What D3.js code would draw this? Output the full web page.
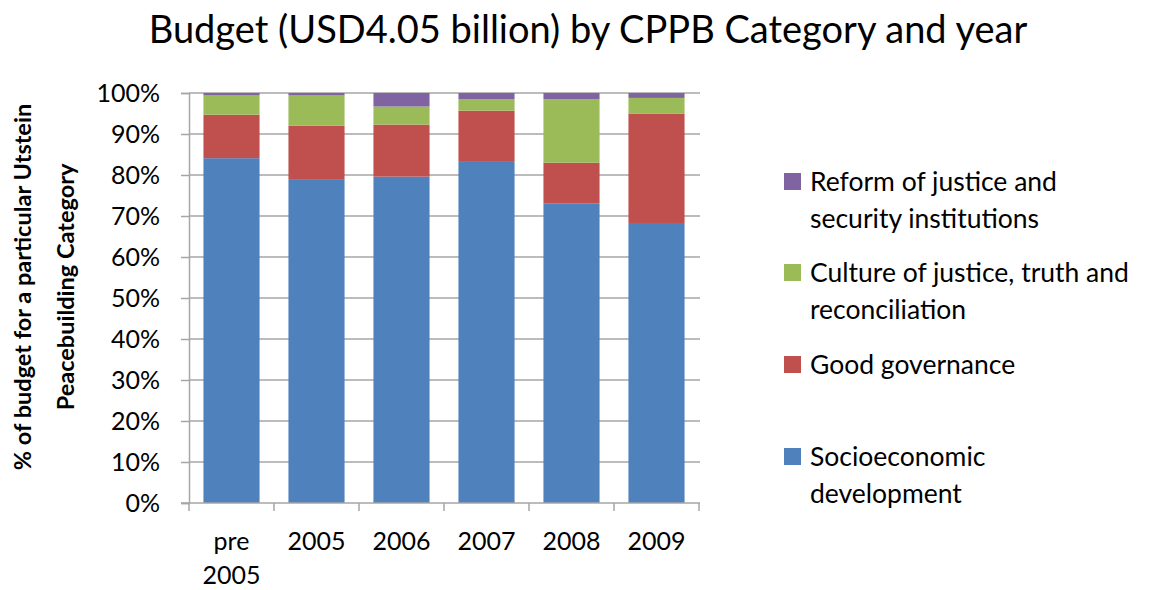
<!DOCTYPE html>
<html><head><meta charset="utf-8">
<script src="https://cdn.jsdelivr.net/npm/d3@7"></script>
<style>body{margin:0;background:#fff}svg{display:block}</style>
</head><body><div id="chart"></div>
<script>
const categories = ["pre 2005","2005","2006","2007","2008","2009"];
const socioeconomic = [84.1, 79.0, 79.6, 83.4, 73.1, 68.3];
const goodGovernance = [10.6, 13.0, 12.7, 12.3, 9.9, 26.7];
const cultureOfJustice = [4.7, 7.4, 4.4, 2.8, 15.5, 3.8];
const reformOfJustice = [0.6, 0.6, 3.3, 1.5, 1.5, 1.2];
const seriesNames = ["Socioeconomic development","Good governance","Culture of justice, truth and reconciliation","Reform of justice and security institutions"];
const yTicks = [0,10,20,30,40,50,60,70,80,90,100];
const title = "Budget (USD4.05 billion) by CPPB Category and year";
const yTitle = ["% of budget for a particular Utstein","Peacebuilding Category"];

const colors = ["#4F81BD","#C0504D","#9BBB59","#8064A2"];
const legendLines = [
  ["Reform of justice and","security institutions"],
  ["Culture of justice, truth and","reconciliation"],
  ["Good governance"],
  ["Socioeconomic","development"]
];

const W=1162,H=590;
const m={left:189,right:699,top:93,bottom:503};
const font="Lato, 'Open Sans', sans-serif";
const svg=d3.select("#chart").append("svg").attr("width",W).attr("height",H);

const data=categories.map((c,i)=>({cat:c,s0:socioeconomic[i],s1:goodGovernance[i],s2:cultureOfJustice[i],s3:reformOfJustice[i]}));
const keys=["s0","s1","s2","s3"];
const stack=d3.stack().keys(keys)(data);

const x=d3.scaleBand().domain(categories).range([m.left,m.right]).paddingInner(0.34).paddingOuter(0.17);
const y=d3.scaleLinear().domain([0,100]).range([m.bottom,m.top]);

// gridlines
svg.append("g").selectAll("line").data(yTicks.filter(d=>d>0)).join("line")
  .attr("x1",m.left).attr("x2",m.right+1).attr("y1",d=>y(d)).attr("y2",d=>y(d))
  .attr("stroke","#a6a6a6").attr("stroke-width",1.5);

// bars
svg.append("g").selectAll("g").data(stack).join("g").attr("fill",(d,i)=>colors[i])
  .selectAll("rect").data(d=>d).join("rect")
  .attr("x",d=>x(d.data.cat)).attr("width",x.bandwidth())
  .attr("y",d=>y(d[1])).attr("height",d=>y(d[0])-y(d[1]));

// y axis
const yAxis=svg.append("g").attr("transform",`translate(${m.left},0)`)
  .call(d3.axisLeft(y).tickValues(yTicks).tickFormat(d=>d+"%").tickSizeOuter(0).tickSize(8).tickPadding(21));
yAxis.select(".domain").attr("stroke","#a6a6a6").attr("stroke-width",1.5);
yAxis.selectAll(".tick line").attr("stroke","#a6a6a6").attr("stroke-width",1.5);
yAxis.selectAll("text").attr("font-family",font).attr("font-size",25).attr("fill","#000");

// x axis
const xg=svg.append("g");
xg.append("line").attr("x1",m.left-8).attr("x2",m.right+1).attr("y1",m.bottom).attr("y2",m.bottom).attr("stroke","#a6a6a6").attr("stroke-width",1.5);
const bounds=categories.map(c=>x(c)-x.step()*x.paddingInner()/2);
bounds.push(m.right);
bounds[0]=m.left;
xg.selectAll("line.t").data(bounds).join("line").attr("class","t")
  .attr("x1",d=>d).attr("x2",d=>d).attr("y1",m.bottom).attr("y2",m.bottom+8)
  .attr("stroke","#a6a6a6").attr("stroke-width",1.5);
const xl=xg.selectAll("text").data(categories).join("text")
  .attr("x",d=>x(d)+x.bandwidth()/2).attr("y",550)
  .attr("text-anchor","middle").attr("font-family",font).attr("font-size",25).attr("fill","#000");
xl.each(function(d){
  const parts=d==="pre 2005"?["pre","2005"]:[d];
  d3.select(this).selectAll("tspan").data(parts).join("tspan")
    .attr("x",x(d)+x.bandwidth()/2).attr("dy",(p,i)=>i?34:0).text(p=>p);
});

// title
svg.append("text").attr("x",588).attr("y",43).attr("text-anchor","middle")
  .attr("font-family",font).attr("font-size",38).attr("fill","#000").text(title);

// y title
const yt=svg.append("text").attr("transform","translate(0,287) rotate(-90)")
  .attr("text-anchor","middle").attr("font-family",font).attr("font-weight","bold").attr("font-size",23.5).attr("fill","#000");
yt.selectAll("tspan").data(yTitle).join("tspan").attr("x",0).attr("y",(d,i)=>31+i*43).text(d=>d);

// legend
const legendY=[181,272,364,456];
const lg=svg.append("g");
legendLines.forEach((lines,i)=>{
  const ci=3-i;
  lg.append("rect").attr("x",784).attr("y",legendY[i]-8).attr("width",17).attr("height",17).attr("fill",colors[ci]);
  const t=lg.append("text").attr("font-family",font).attr("font-size",26.5).attr("fill","#000");
  lines.forEach((l,j)=>t.append("tspan").attr("x",810).attr("y",legendY[i]+10+j*37).text(l));
});
</script></body></html>
